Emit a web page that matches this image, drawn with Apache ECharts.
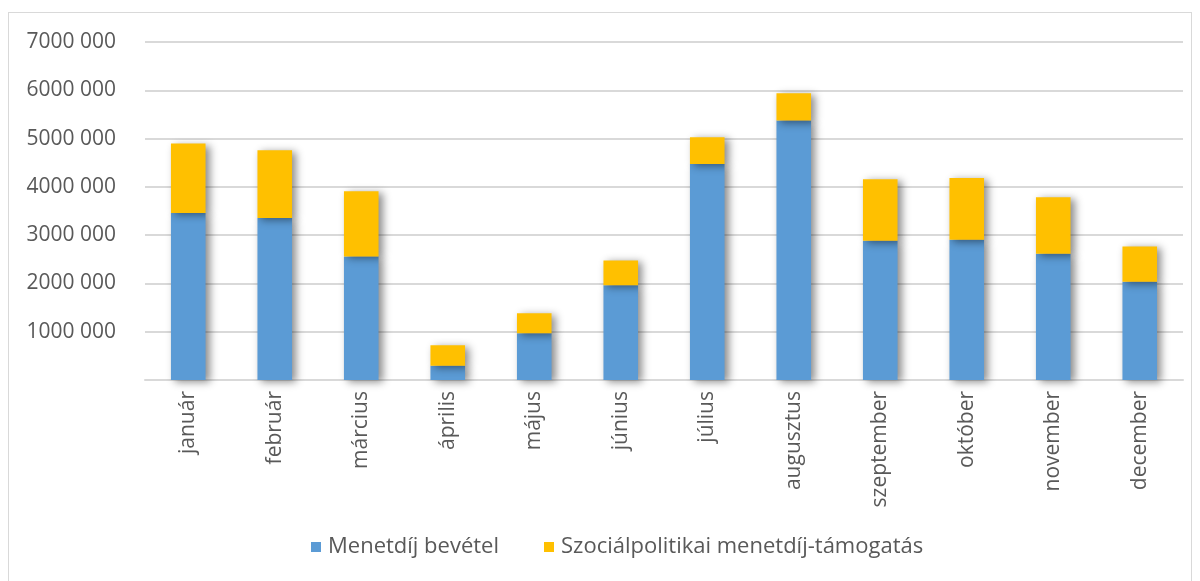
<!DOCTYPE html>
<html><head><meta charset="utf-8">
<script src="https://cdn.jsdelivr.net/npm/echarts@6/dist/echarts.min.js"></script>
<style>html,body{margin:0;padding:0;background:#fff;}#c{width:1200px;height:581px;}
#frame{position:absolute;left:8px;top:12px;width:1182px;height:600px;border:1.5px solid #d9d9d9;pointer-events:none;}</style>
</head><body><div id="c"></div><div id="frame"></div>
<script>
const categories = ['január','február','március','április','május','június','július','augusztus','szeptember','október','november','december'];
const menetdij = [3458000,3354000,2558000,297000,968000,1964000,4474000,5373000,2884000,2905000,2614000,2033000];
const szocialpolitikai = [1438000,1403000,1349000,423000,415000,511000,553000,567000,1272000,1279000,1169000,733000];
const seriesNames = ['Menetdíj bevétel','Szociálpolitikai menetdíj-támogatás'];
const yTicks = {min:0, max:7000000, interval:1000000};

const font = 'Open Sans, sans-serif';
const chart = echarts.init(document.getElementById('c'));
const barStyle = (color)=>({color:color, shadowBlur:8, shadowColor:'rgba(0,0,0,0.45)', shadowOffsetX:4, shadowOffsetY:2});
chart.setOption({
  animation:false,
  grid:{left:145,right:17,top:42,bottom:201},
  legend:{bottom:18,left:306,itemWidth:10,itemHeight:10,itemGap:45,icon:'rect',
    textStyle:{color:'#595959',fontSize:22,fontFamily:font,padding:[0,0,0,2]},data:seriesNames},
  xAxis:{type:'category',data:categories,
    axisLine:{lineStyle:{color:'#d9d9d9',width:2}},axisTick:{show:false},
    axisLabel:{rotate:90,color:'#595959',fontSize:21,fontFamily:font,margin:11}},
  yAxis:{type:'value',min:yTicks.min,max:yTicks.max,interval:yTicks.interval,
    axisLine:{show:false},axisTick:{show:false},
    splitLine:{lineStyle:{color:'#d9d9d9',width:2}},
    axisLabel:{color:'#595959',fontSize:21,fontFamily:font,margin:29,
      formatter:v=>v===0?'':(Math.floor(v/1000)+' '+String(v%1000).padStart(3,'0'))}},
  series:[
    {name:seriesNames[0],type:'bar',stack:'a',data:menetdij,barWidth:'40%',itemStyle:barStyle('#5b9bd5')},
    {name:seriesNames[1],type:'bar',stack:'a',data:szocialpolitikai,barWidth:'40%',itemStyle:barStyle('#ffc000')}
  ]
});
</script></body></html>
